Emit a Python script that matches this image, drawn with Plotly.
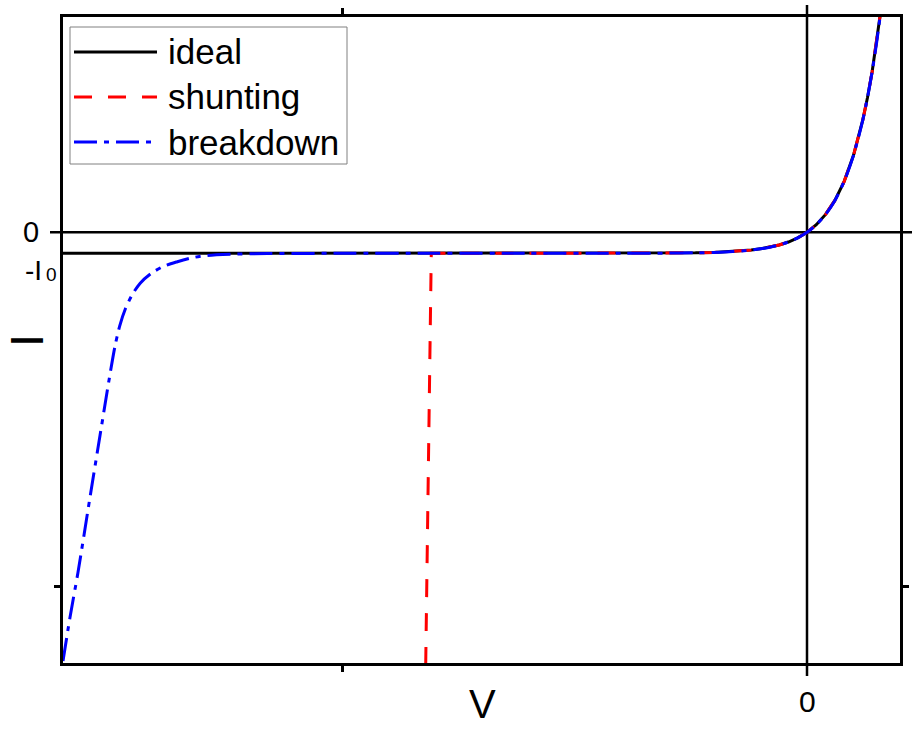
import plotly.graph_objects as go

# Data (V in arbitrary units, I in units of I0)
ideal_v = [-8, -6, -4, -3, -2, -1.5, -1.2, -1, -0.8, -0.6, -0.5, -0.4, -0.3, -0.2, -0.1,
           0, 0.1, 0.2, 0.3, 0.4, 0.5, 0.6, 0.65, 0.7, 0.75, 0.8]
ideal_i = [-1.0, -1.0, -1.0, -0.9999, -0.998, -0.990, -0.975, -0.954, -0.915, -0.842, -0.786,
           -0.708, -0.603, -0.460, -0.265, 0, 0.361, 0.852, 1.519, 2.428, 3.665, 5.347, 6.404,
           7.636, 9.07, 10.75]

shunt_v = [-4.10, -4.04, -3, -2, -1.5, -1.2, -1, -0.8, -0.6, -0.5, -0.4, -0.3, -0.2, -0.1,
           0, 0.1, 0.2, 0.3, 0.4, 0.5, 0.6, 0.65, 0.7, 0.75, 0.8]
shunt_i = [-20.6, -1.0, -0.9999, -0.998, -0.990, -0.975, -0.954, -0.915, -0.842, -0.786,
           -0.708, -0.603, -0.460, -0.265, 0, 0.361, 0.852, 1.519, 2.428, 3.665, 5.347, 6.404,
           7.636, 9.07, 10.75]

brk_v = [-8.0, -7.925, -7.839, -7.710, -7.602, -7.50, -7.44, -7.39, -7.33, -7.26,
         -7.17, -7.05, -6.92, -6.77, -6.60, -6.45, -6.2, -5.8, -5, -4, -3, -2, -1.5,
         -1.2, -1, -0.8, -0.6, -0.5, -0.4, -0.3, -0.2, -0.1, 0, 0.1, 0.2, 0.3, 0.4, 0.5, 0.6,
         0.65, 0.7, 0.75, 0.8]
brk_i = [-20.4, -18.33, -16.19, -12.62, -9.67, -6.9, -5.4, -4.45, -3.65, -3.0,
         -2.42, -1.95, -1.62, -1.40, -1.20, -1.10, -1.04, -1.01, -1.0, -1.0, -0.9999, -0.998,
         -0.990, -0.975, -0.954, -0.915, -0.842, -0.786, -0.708, -0.603, -0.460, -0.265, 0,
         0.361, 0.852, 1.519, 2.428, 3.665, 5.347, 6.404, 7.636, 9.07, 10.75]

names = ["ideal", "shunting", "breakdown"]
colors = ["black", "#ff0000", "#0000ff"]
dashes = ["solid", "18px,16px", "23px,7px,5px,7px"]
shapes_ = ["linear", "linear", "spline"]
x_range = [-8, 1.0]
y_range = [-20.5, 10.25]
x_tick = [-5]
y_tick = [-16.86]

FONT = "Liberation Sans, Arial, sans-serif"
W, H = 912, 729
ML, MR, MT, MB = 63, 12, 17, 66
PW, PH = W - ML - MR, H - MT - MB


def px(x):
    return (x - ML) / PW


def py(y):
    return (H - MB - y) / PH


fig = go.Figure()
for v, i, n, c, d, s in zip([ideal_v, shunt_v, brk_v], [ideal_i, shunt_i, brk_i],
                            names, colors, dashes, shapes_):
    fig.add_trace(go.Scatter(x=v, y=i, mode="lines", name=n, showlegend=False,
                             line=dict(color=c, width=3, dash=d, shape=s, smoothing=0.8)))

# zero lines (extend slightly beyond the frame)
px0 = (0 - x_range[0]) / (x_range[1] - x_range[0])
py0 = (0 - y_range[0]) / (y_range[1] - y_range[0])
fig.add_shape(type="line", xref="paper", yref="paper", x0=px0, x1=px0, y0=py(676), y1=py(5),
              line=dict(color="black", width=2.5), layer="below")
fig.add_shape(type="line", xref="paper", yref="paper", x0=px(50), x1=px(912), y0=py0, y1=py0,
              line=dict(color="black", width=2.5), layer="below")

# legend (drawn manually to match box geometry)
fig.add_shape(type="rect", xref="paper", yref="paper", x0=px(70), x1=px(347), y0=py(164), y1=py(27),
              line=dict(color="#808080", width=1), fillcolor="white", layer="above")
rows = [52, 97, 142]
for n, c, d, ry in zip(names, colors, dashes, rows):
    fig.add_shape(type="line", xref="paper", yref="paper", x0=px(74), x1=px(157), y0=py(ry), y1=py(ry),
                  line=dict(color=c, width=3, dash=d), layer="above")
    fig.add_annotation(x=px(166), y=py(ry), xref="paper", yref="paper", text=n, showarrow=False,
                       xanchor="left", yanchor="middle",
                       font=dict(size=35, family=FONT, color="black"))

# labels
fig.add_annotation(x=0, xref="x", y=py(701), yref="paper", text="0", showarrow=False,
                   xanchor="center", yanchor="middle",
                   font=dict(size=30, family=FONT, color="black"))
fig.add_annotation(x=px(31), xref="paper", y=0, yref="y", text="0", showarrow=False,
                   xanchor="center", yanchor="middle",
                   font=dict(size=29, family=FONT, color="black"))
fig.add_annotation(x=px(44), xref="paper", y=py(270), yref="paper", text="-I", showarrow=False,
                   xanchor="right", yanchor="middle",
                   font=dict(size=28, family=FONT, color="black"))
fig.add_annotation(x=px(51.5), xref="paper", y=py(274), yref="paper", text="0", showarrow=False,
                   xanchor="center", yanchor="middle",
                   font=dict(size=19, family=FONT, color="black"))
fig.add_annotation(x=px(482), xref="paper", y=py(704), yref="paper", text="V", showarrow=False,
                   xanchor="center", yanchor="middle",
                   font=dict(size=40, family=FONT, color="black"))
fig.add_annotation(x=px(26), xref="paper", y=py(341), yref="paper", text="I", showarrow=False,
                   xanchor="center", yanchor="middle",
                   textangle=-90, font=dict(size=47, family=FONT, color="black"))

axis_common = dict(showline=True, linecolor="black", linewidth=2.5, mirror="ticks",
                   ticks="outside", ticklen=6, tickwidth=2.5, tickcolor="black",
                   showgrid=False, zeroline=False, showticklabels=False, automargin=False)
fig.update_xaxes(range=x_range, tickvals=x_tick, **axis_common)
fig.update_yaxes(range=y_range, tickvals=y_tick, **axis_common)

fig.update_layout(
    width=W, height=H,
    margin=dict(l=ML, r=MR, t=MT, b=MB),
    paper_bgcolor="white", plot_bgcolor="white",
    font=dict(family=FONT, color="black"),
    showlegend=False,
)

fig.write_html("out.html")
